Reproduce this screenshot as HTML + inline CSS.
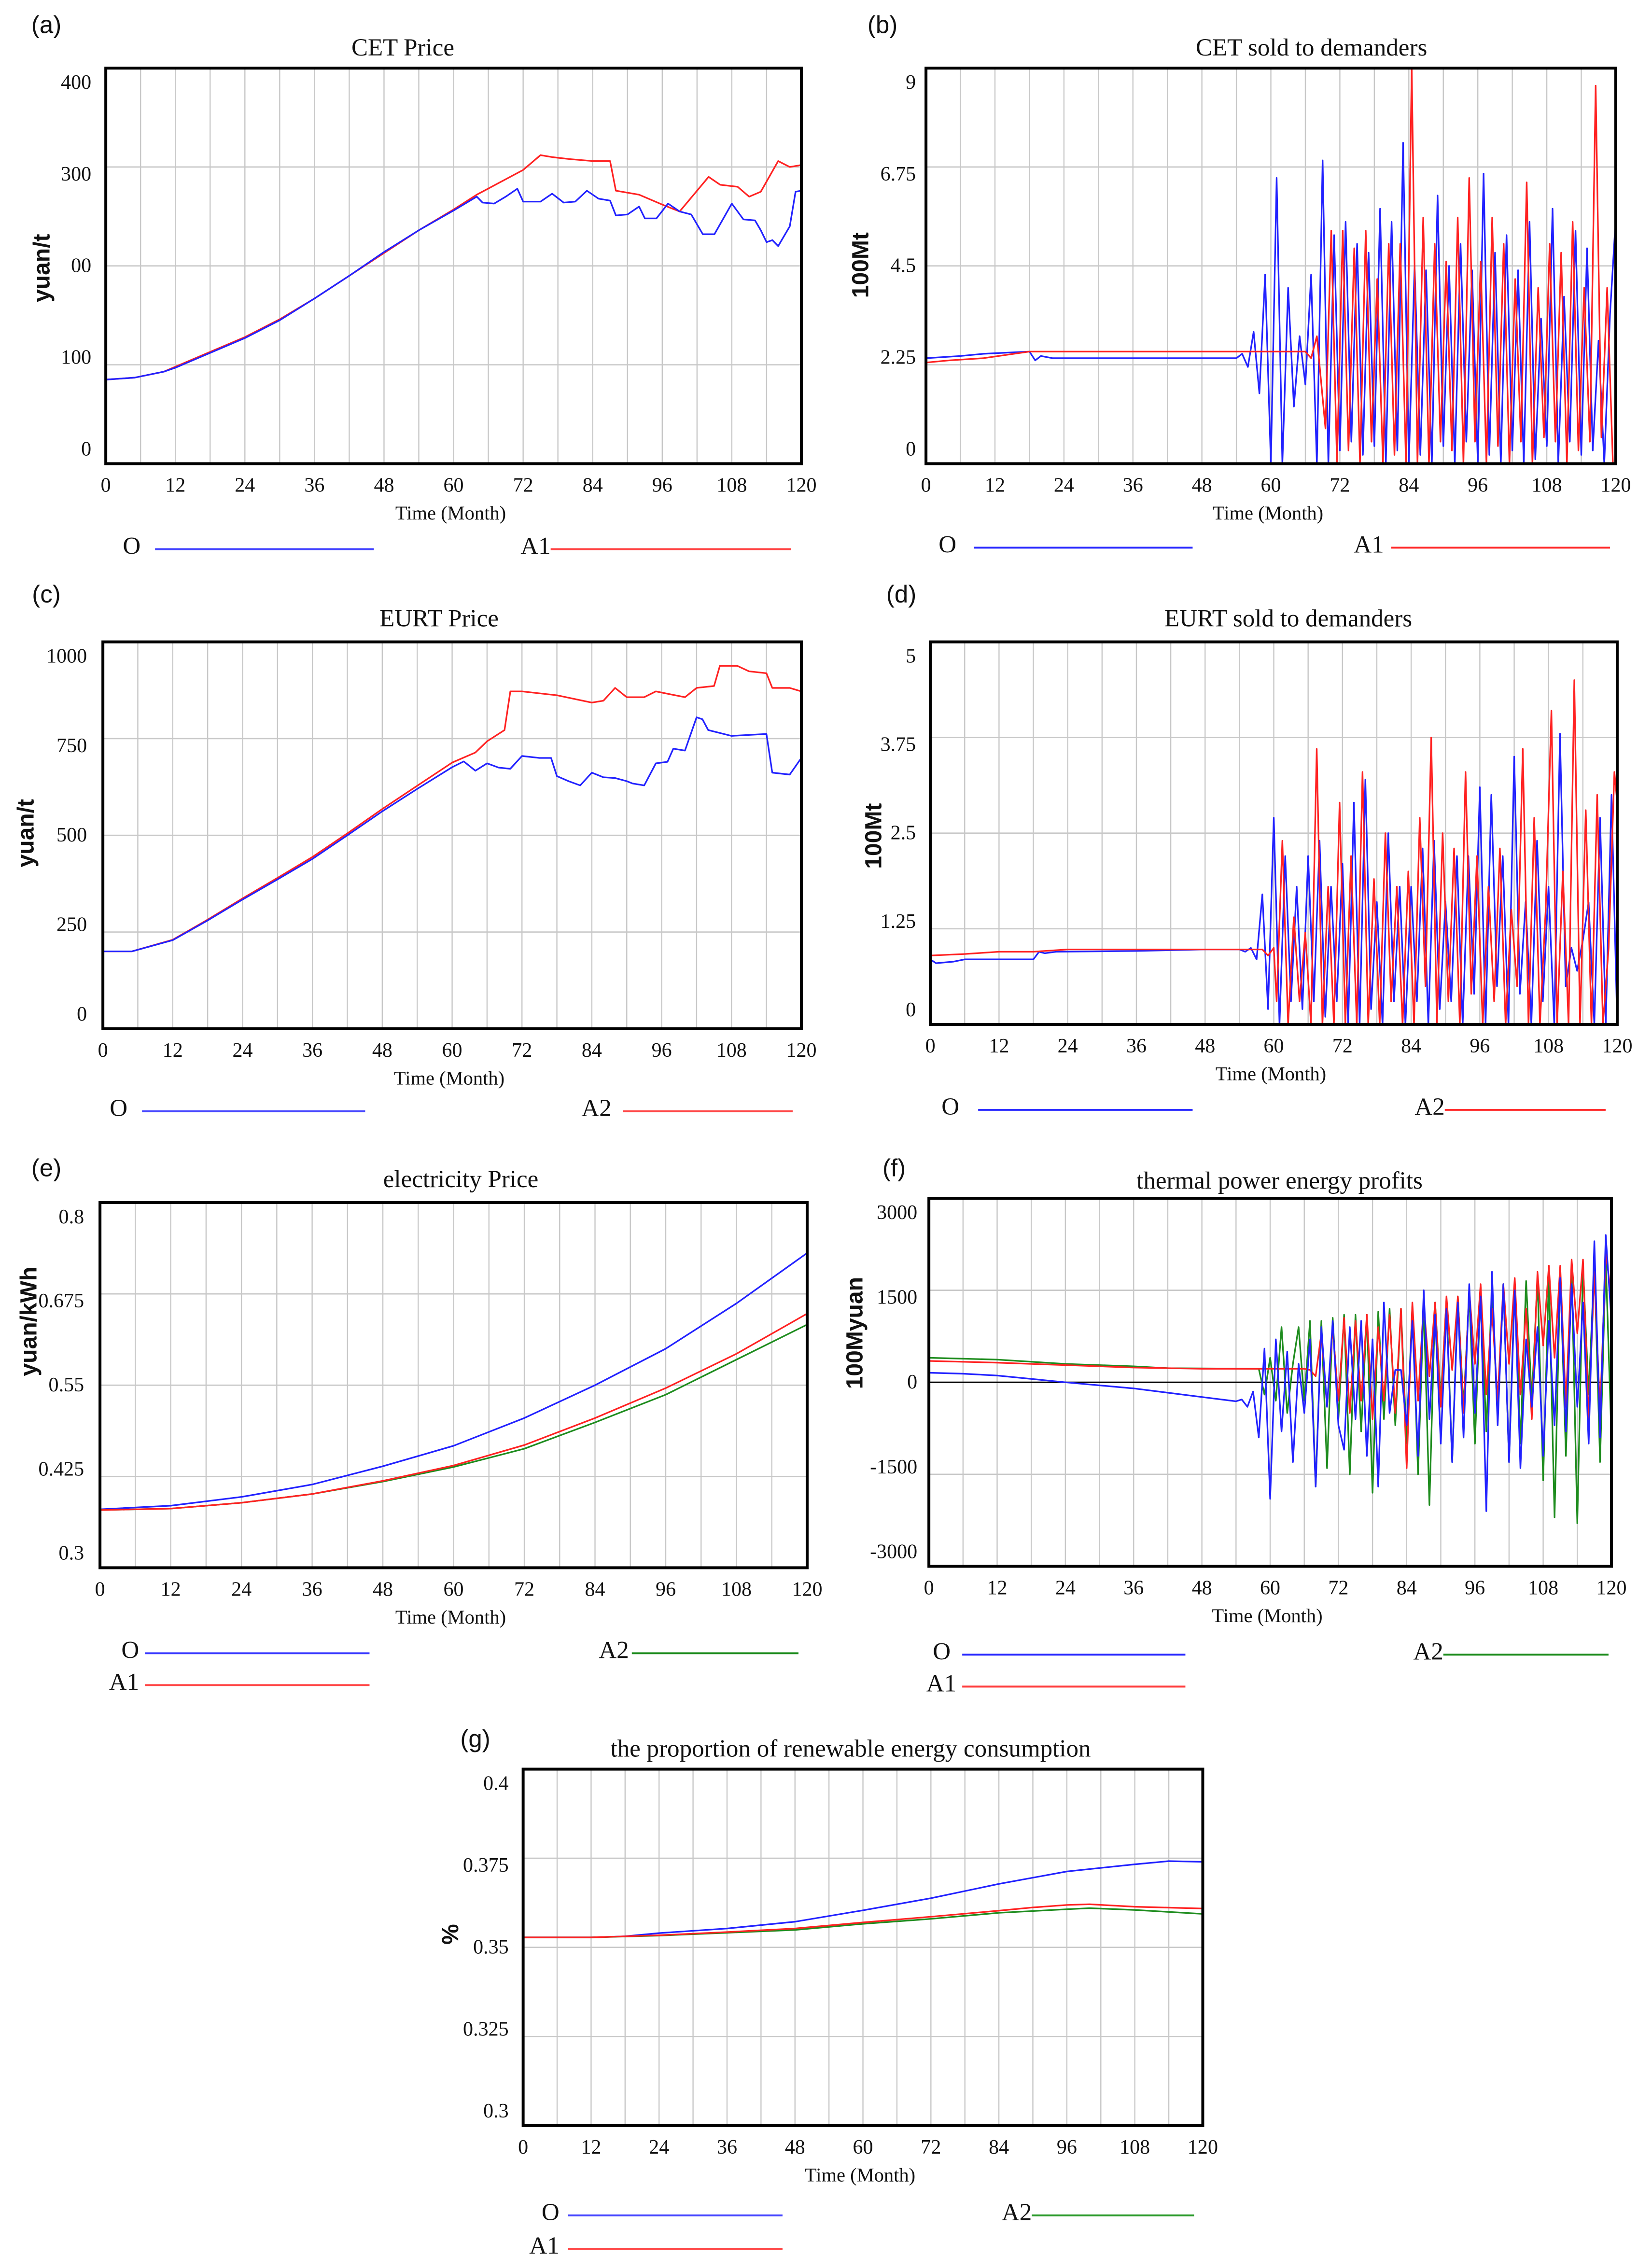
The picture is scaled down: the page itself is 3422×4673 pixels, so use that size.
<!DOCTYPE html>
<html><head><meta charset="utf-8"><style>
html,body{margin:0;padding:0;background:#fff;}
svg{display:block;}
text{font-family:"Liberation Serif",serif;fill:#111;}
.sans{font-family:"Liberation Sans",sans-serif;}
</style></head><body>
<svg id="fig" xmlns="http://www.w3.org/2000/svg" width="3422" height="4673" viewBox="0 0 1140 1557" preserveAspectRatio="none">
<rect x="0" y="0" width="1140" height="1557" fill="#fff"/>
</svg>
<script>
// ---------- data (month, value) ----------
const xTicks = [0,12,24,36,48,60,72,84,96,108,120];

const cetPriceO = [[0,85],[5,87],[10,93],[12,97],[18,112],[24,127],[30,145],[36,167],[42,190],[48,214],[54,236],[60,256],[64,270],[65,264],[67,263],[69,270],[71,278],[72,265],[75,265],[77,273],[79,264],[81,265],[83,276],[85,268],[87,266],[88,251],[90,252],[92,260],[93,248],[95,248],[97,263],[99,255],[101,252],[103,232],[105,232],[108,263],[110,247],[112,246],[113,236],[114,224],[115,226],[116,220],[118,240],[119,275],[120,276]];
const cetPriceA1 = [[0,85],[5,87],[10,93],[12,98],[18,113],[24,128],[30,146],[36,167],[42,190],[48,213],[54,236],[60,257],[64,272],[72,297],[75,312],[77,310],[80,308],[84,306],[87,306],[88,276],[92,272],[96,262],[99,255],[104,290],[106,282],[109,280],[111,270],[113,275],[116,306],[118,300],[120,302]];

const cetSoldO = [[0,2.4],[6,2.45],[10,2.5],[18,2.55],[19,2.35],[20,2.45],[22,2.4],[24,2.4],[54,2.4],[55,2.5],[56,2.2],[57,3.0],[58,1.6],[59,4.3],[60,0],[61,6.5],[62,0],[63,4.0],[64,1.3],[65,2.9],[66,1.8],[67,4.3],[68,0],[69,6.9],[70,0],[71,5.2],[72,0.3],[73,5.5],[74,0.5],[75,5.0],[76,0.2],[77,4.8],[78,0.4],[79,5.8],[80,0],[81,5.5],[82,0.3],[83,7.3],[84,0],[85,4.5],[86,0.2],[87,4.4],[88,0],[89,6.1],[90,0.4],[91,4.5],[92,0],[93,5.0],[94,0.5],[95,4.4],[96,0],[97,6.6],[98,0.2],[99,4.8],[100,0],[101,5.2],[102,0.3],[103,4.4],[104,0],[105,5.5],[106,0.1],[107,3.3],[108,0.4],[109,5.8],[110,0],[111,3.8],[112,0.5],[113,5.3],[114,0.2],[115,4.9],[116,0.3],[117,2.8],[118,0],[119,3.4],[120,5.6]];
const cetSoldA1 = [[0,2.3],[4,2.35],[10,2.4],[18,2.55],[66,2.55],[67,2.4],[68,2.9],[69.5,0.8],[70.5,5.3],[71.5,0],[72.5,5.3],[73.5,0.3],[74.5,4.9],[75.5,0],[76.5,5.3],[77.5,0.5],[78.5,4.2],[79.5,0],[80.5,5.0],[81.5,0.2],[82.5,5.0],[83.5,0],[84.5,9.0],[85.5,0],[86.5,5.6],[87.5,0],[88.5,5.0],[89.5,0.5],[90.5,4.6],[91.5,0.3],[92.5,5.6],[93.5,0],[94.5,6.5],[95.5,0.5],[96.5,4.6],[97.5,0],[98.5,5.6],[99.5,0.4],[100.5,5.0],[101.5,0],[102.5,4.2],[103.5,0.5],[104.5,6.4],[105.5,0],[106.5,4.0],[107.5,0.6],[108.5,5.0],[109.5,0.5],[110.5,4.8],[111.5,0],[112.5,5.5],[113.5,0.3],[114.5,4.0],[115.5,0.5],[116.5,8.6],[117.5,0.6],[118.5,4.0],[119.5,0]];

const eurtPriceO = [[0,200],[5,200],[12,229],[18,280],[24,334],[30,386],[36,439],[42,500],[48,562],[54,620],[60,676],[62,691],[64,667],[66,686],[68,675],[70,672],[72,705],[75,700],[77,700],[78,653],[80,640],[82,629],[84,662],[86,650],[88,648],[90,640],[91,634],[93,629],[95,686],[97,690],[98,724],[100,719],[102,805],[103,800],[104,772],[108,757],[114,762],[115,662],[118,657],[120,700]];
const eurtPriceA2 = [[0,200],[5,200],[12,230],[18,282],[24,337],[30,390],[36,444],[42,505],[48,568],[54,628],[60,688],[64,714],[66,743],[69,772],[70,872],[72,872],[78,862],[84,843],[86,848],[88,881],[90,857],[93,857],[95,872],[100,857],[102,881],[105,886],[106,938],[109,938],[111,924],[114,919],[115,881],[118,881],[120,872]];

const eurtSoldO = [[0,0.85],[1,0.8],[4,0.82],[6,0.85],[18,0.85],[19,0.95],[20,0.93],[22,0.95],[36,0.96],[48,0.98],[54,0.98],[55,0.95],[56,1.0],[57,0.85],[58,1.7],[59,0.2],[60,2.7],[61,0],[62,2.2],[63,0.3],[64,1.8],[65,0.2],[66,2.2],[67,0.3],[68,2.4],[69,0.1],[70,1.8],[71,0.3],[72,2.1],[73,0],[74,2.9],[75,0],[76,3.2],[77,0.2],[78,1.6],[79,0],[80,2.5],[81,0.3],[82,1.8],[83,0],[84,1.8],[85,0.3],[86,2.3],[87,0],[88,2.4],[89,0.2],[90,1.6],[91,0.3],[92,2.2],[93,0],[94,2.2],[95,0.4],[96,3.1],[97,0],[98,3.0],[99,0.5],[100,2.2],[101,0],[102,3.5],[103,0.4],[104,1.6],[105,0],[106,2.4],[107,0.3],[108,1.8],[109,0],[110,3.8],[111,0.5],[112,1.0],[113,0.7],[114,1.1],[115,1.6],[116,0],[117,2.7],[118,0],[119,3.0],[120,0]];
const eurtSoldA2 = [[0,0.9],[6,0.92],[12,0.95],[18,0.95],[24,0.98],[58,0.98],[59,0.9],[60,1.0],[60.5,0.3],[61.5,2.4],[62.5,0],[63.5,1.4],[64.5,0.3],[65.5,1.2],[66.5,0],[67.5,3.6],[68.5,0],[69.5,1.8],[70.5,0],[71.5,2.9],[72.5,0],[73.5,2.2],[74.5,0],[75.5,3.3],[76.5,0],[77.5,1.9],[78.5,0],[79.5,2.5],[80.5,0.3],[81.5,1.8],[82.5,0],[83.5,2.0],[84.5,0],[85.5,2.7],[86.5,0.5],[87.5,3.75],[88.5,0],[89.5,2.5],[90.5,0.3],[91.5,2.3],[92.5,0],[93.5,3.3],[94.5,0.4],[95.5,2.2],[96.5,0],[97.5,1.8],[98.5,0.3],[99.5,2.3],[100.5,0],[101.5,1.5],[102.5,0.5],[103.5,3.6],[104.5,0],[105.5,2.7],[106.5,0],[107.5,1.5],[108.5,4.1],[109.5,0],[110.5,2.0],[111.5,0],[112.5,4.5],[113.5,0],[114.5,2.8],[115.5,0],[116.5,3.0],[117.5,0],[118.5,1.0],[119.5,3.3],[120,2.9]];

const elecO = [[0,0.380],[12,0.385],[24,0.397],[36,0.414],[48,0.439],[60,0.467],[72,0.505],[84,0.550],[96,0.600],[108,0.662],[120,0.731]];
const elecA1 = [[0,0.379],[12,0.381],[24,0.389],[36,0.401],[48,0.419],[60,0.440],[72,0.468],[84,0.505],[96,0.546],[108,0.593],[120,0.648]];
const elecA2 = [[0,0.379],[12,0.381],[24,0.389],[36,0.401],[48,0.418],[60,0.438],[72,0.463],[84,0.499],[96,0.537],[108,0.585],[120,0.633]];

const profitO = [[0,156],[6,140],[12,110],[24,0],[36,-100],[48,-240],[54,-310],[55,-280],[56,-400],[57,-150],[58,-900],[59,550],[60,-1900],[61,700],[62,-800],[63,500],[64,-1300],[65,300],[66,-500],[67,700],[68,-1700],[69,900],[70,-400],[71,1000],[72,-700],[73,-1100],[74,900],[75,-600],[76,1000],[77,-1200],[78,700],[79,-1700],[80,1300],[81,-500],[82,200],[83,200],[84,-700],[85,1000],[86,-1200],[87,1500],[88,-600],[89,1100],[90,-1000],[91,1200],[92,-1300],[93,1300],[94,-900],[95,1600],[96,-500],[97,1400],[98,-2100],[99,1800],[100,-700],[101,1600],[102,-1300],[103,1500],[104,-1400],[105,700],[106,-400],[107,900],[108,-1200],[109,1000],[110,-700],[111,1700],[112,-800],[113,1600],[114,-400],[115,1300],[116,-1000],[117,2300],[118,-900],[119,2400],[120,1000]];
const profitA1 = [[0,348],[12,320],[24,280],[36,240],[48,220],[66,220],[67,200],[68,100],[69,800],[70,-400],[71,900],[72,-300],[73,1050],[74,-500],[75,1000],[76,-300],[77,1100],[78,-600],[79,900],[80,-300],[81,1100],[82,-500],[83,1200],[84,-1400],[85,1300],[86,-300],[87,1300],[88,100],[89,1300],[90,-400],[91,1400],[92,200],[93,1400],[94,-500],[95,1500],[96,300],[97,1600],[98,-200],[99,1200],[100,-300],[101,1600],[102,300],[103,1700],[104,-200],[105,1200],[106,-600],[107,1800],[108,600],[109,1900],[110,400],[111,1900],[112,-400],[113,2000],[114,800],[115,2000],[116,-600],[117,1800],[118,-500],[119,2100],[120,1400]];
const profitA2 = [[0,400],[12,370],[24,300],[36,260],[42,230],[58,220],[59,-200],[60,400],[61,-300],[62,900],[63,-500],[64,300],[65,900],[66,-300],[67,1000],[68,-1700],[69,1000],[70,-1400],[71,1050],[72,-600],[73,1100],[74,-1500],[75,1100],[76,-800],[77,1100],[78,-1800],[79,1150],[80,-600],[81,1200],[82,-700],[83,1200],[84,-1000],[85,1250],[86,-1500],[87,1300],[88,-2000],[89,1300],[90,-300],[91,1350],[92,-1300],[93,1400],[94,-400],[95,1450],[96,-1000],[97,1500],[98,-800],[99,1550],[100,-600],[101,1600],[102,-1300],[103,1650],[104,-1000],[105,1650],[106,-300],[107,1700],[108,-1600],[109,1750],[110,-2200],[111,1800],[112,-1200],[113,1850],[114,-2300],[115,1900],[116,-200],[117,1950],[118,-1300],[119,2000],[120,-900]];

const renewO = [[0,0.3528],[12,0.3528],[18,0.3531],[24,0.354],[36,0.3553],[48,0.3572],[60,0.3604],[72,0.3638],[84,0.3678],[96,0.3713],[108,0.3733],[114,0.3742],[120,0.3740]];
const renewA1 = [[0,0.3528],[12,0.3528],[24,0.3534],[36,0.3543],[48,0.3553],[60,0.3570],[72,0.3586],[84,0.3603],[90,0.3612],[96,0.3619],[100,0.3621],[108,0.3614],[120,0.3609]];
const renewA2 = [[0,0.3528],[12,0.3528],[24,0.3533],[36,0.3541],[48,0.3549],[60,0.3566],[72,0.3580],[84,0.3597],[96,0.3607],[100,0.3610],[108,0.3605],[120,0.3594]];

const yTicksA = ["400","300","00","100","0"];
const yTicksB = ["9","6.75","4.5","2.25","0"];
const yTicksC = ["1000","750","500","250","0"];
const yTicksD = ["5","3.75","2.5","1.25","0"];
const yTicksE = ["0.8","0.675","0.55","0.425","0.3"];
const yTicksF = ["3000","1500","0","-1500","-3000"];
const yTicksG = ["0.4","0.375","0.35","0.325","0.3"];

// ---------- drawing ----------
const NS = "http://www.w3.org/2000/svg";
const svg = document.getElementById("fig");
const BLUE = "#2222ff", RED = "#ff2222", GREEN = "#1e8c1e";
function mk(tag, attrs, parent){ const e=document.createElementNS(NS,tag); for(const k in attrs) e.setAttribute(k,attrs[k]); (parent||svg).appendChild(e); return e; }
function txt(s, x, y, size, parent, anchor, cls){ const t=mk("text",{x:x,y:y,"font-size":size,"text-anchor":anchor||"middle","dominant-baseline":"central"},parent); if(cls) t.setAttribute("class",cls); t.textContent=s; return t; }

function panel(p){
  const g = mk("g",{});
  
  
  const L=p.x0, R=p.x1, T=p.y0, B=p.y1;
  const xs = m => L + (R-L)*m/120;
  const ys = v => B - (B-T)*(v-p.ymin)/(p.ymax-p.ymin);
  const lab = txt(p.letter, p.lx, p.ly, 17, g, "middle", "sans");
  
  
  const ti = txt(p.title, p.tx, p.ty, 17, g);
  
  
  for(let m=6;m<120;m+=6){ const l=mk("line",{x1:xs(m),x2:xs(m),y1:T,y2:B,stroke:"#c8c8c8","stroke-width":0.8},g);
    
     }
  for(let i=1;i<4;i++){ const y=T+(B-T)*i/4; const l=mk("line",{x1:L,x2:R,y1:y,y2:y,stroke:"#c8c8c8","stroke-width":0.9},g);
    
     }
  if(p.zero){ const l=mk("line",{x1:L,x2:R,y1:ys(0),y2:ys(0),stroke:"#000","stroke-width":1},g);
    
     }
  p.series.forEach(s=>{
    const d = s.data.map((pt,i)=>(i?"L":"M")+xs(pt[0]).toFixed(2)+" "+ys(pt[1]).toFixed(2)).join(" ");
    const path = mk("path",{d:d,fill:"none",stroke:s.color,"stroke-width":1.1,"stroke-linejoin":"round"},g);
    
    
  });
  const fr = mk("rect",{x:L,y:T,width:R-L,height:B-T,fill:"none",stroke:"#000","stroke-width":2},g);
  
  
  p.yt.forEach((s,i)=>{ const y=T+10+(B-T-20)*i/4; const t=txt(s,p.yr,y,14,g,"end");
    
     });
  xTicks.forEach(m=>{ const t=txt(String(m),xs(m),B+15,14,g);
    
     });
  const xl = txt("Time (Month)",(L+R)/2-2,B+34,13.5,g);
  
  
  const yl = txt(p.ylabel,0,0,p.ylsize||16,g,"middle",p.ylcls||"sans");
  yl.setAttribute("transform","translate("+p.ylx+","+p.yly+") rotate(-90)");
  yl.setAttribute("font-weight","bold");
  
  
  p.legend.forEach(e=>{
    const lg = mk("g",{},g);
    
    
    txt(e[0], e[1], e[4], 17, lg, "end");
    mk("line",{x1:e[2],x2:e[3],y1:e[4]+2,y2:e[4]+2,stroke:e[5],"stroke-width":1.3},lg);
  });
}

panel({name:"chart-cet-price",letter:"(a)",lx:32,ly:17,title:"CET Price",tx:278,ty:33,x0:73,x1:553,y0:47,y1:320,ymin:0,ymax:400,yt:yTicksA,yr:63,ylabel:"yuan/t",ylx:29,yly:185,
  series:[{label:"A1",color:RED,data:cetPriceA1},{label:"O",color:BLUE,data:cetPriceO}],
  legend:[["O",97,107,258,377,"#4646ff"],["A1",380,380,546,377,"#ff4646"]]});
panel({name:"chart-cet-sold",letter:"(b)",lx:609,ly:17,title:"CET sold to demanders",tx:905,ty:33,x0:639,x1:1115,y0:47,y1:320,ymin:0,ymax:9,yt:yTicksB,yr:632,ylabel:"100Mt",ylcls:"",ylx:594,yly:183,
  series:[{label:"O",color:BLUE,data:cetSoldO},{label:"A1",color:RED,data:cetSoldA1}],
  legend:[["O",660,672,823,376,"#2a2aff"],["A1",955,960,1111,376,"#ff2a2a"]]});
panel({name:"chart-eurt-price",letter:"(c)",lx:32,ly:410,title:"EURT Price",tx:303,ty:427,x0:71,x1:553,y0:443,y1:710,ymin:0,ymax:1000,yt:yTicksC,yr:60,ylabel:"yuan/t",ylx:18,yly:575,
  series:[{label:"A2",color:RED,data:eurtPriceA2},{label:"O",color:BLUE,data:eurtPriceO}],
  legend:[["O",88,98,252,765,"#4646ff"],["A2",422,430,547,765,"#ff4646"]]});
panel({name:"chart-eurt-sold",letter:"(d)",lx:622,ly:410,title:"EURT sold to demanders",tx:889,ty:427,x0:642,x1:1116,y0:443,y1:707,ymin:0,ymax:5,yt:yTicksD,yr:632,ylabel:"100Mt",ylcls:"",ylx:603,yly:577,
  series:[{label:"O",color:BLUE,data:eurtSoldO},{label:"A2",color:RED,data:eurtSoldA2}],
  legend:[["O",662,675,823,764,"#2a2aff"],["A2",997,997,1108,764,"#ff2a2a"]]});
panel({name:"chart-electricity-price",letter:"(e)",lx:32,ly:806,title:"electricity Price",tx:318,ty:814,x0:69,x1:557,y0:830,y1:1082,ymin:0.3,ymax:0.8,yt:yTicksE,yr:58,ylabel:"yuan/kWh",ylx:20,yly:912,
  series:[{label:"O",color:BLUE,data:elecO},{label:"A2",color:GREEN,data:elecA2},{label:"A1",color:RED,data:elecA1}],
  legend:[["O",96,100,255,1139,"#3c3cff"],["A2",434,436,551,1139,"#1e8c1e"],["A1",96,100,255,1161,"#ff4646"]]});
panel({name:"chart-thermal-profits",letter:"(f)",lx:617,ly:806,title:"thermal power energy profits",tx:883,ty:815,x0:641,x1:1112,y0:827,y1:1081,ymin:-3000,ymax:3000,yt:yTicksF,yr:633,ylabel:"100Myuan",ylcls:"",ylx:590,yly:920,zero:true,
  series:[{label:"A2",color:GREEN,data:profitA2},{label:"A1",color:RED,data:profitA1},{label:"O",color:BLUE,data:profitO}],
  legend:[["O",656,664,818,1140,"#2a2aff"],["A2",996,996,1110,1140,"#1e8c1e"],["A1",660,664,818,1162,"#ff3c3c"]]});
panel({name:"chart-renewable-proportion",letter:"(g)",lx:328,ly:1200,title:"the proportion of renewable energy consumption",tx:587,ty:1207,x0:361,x1:830,y0:1221,y1:1467,ymin:0.3,ymax:0.4,yt:yTicksG,yr:351,ylabel:"%",ylx:311,yly:1335,
  series:[{label:"O",color:BLUE,data:renewO},{label:"A2",color:GREEN,data:renewA2},{label:"A1",color:RED,data:renewA1}],
  legend:[["O",386,392,540,1527,"#4646ff"],["A2",712,712,824,1527,"#2a9a2a"],["A1",386,392,540,1550,"#ff4646"]]});
</script>
</body></html>
